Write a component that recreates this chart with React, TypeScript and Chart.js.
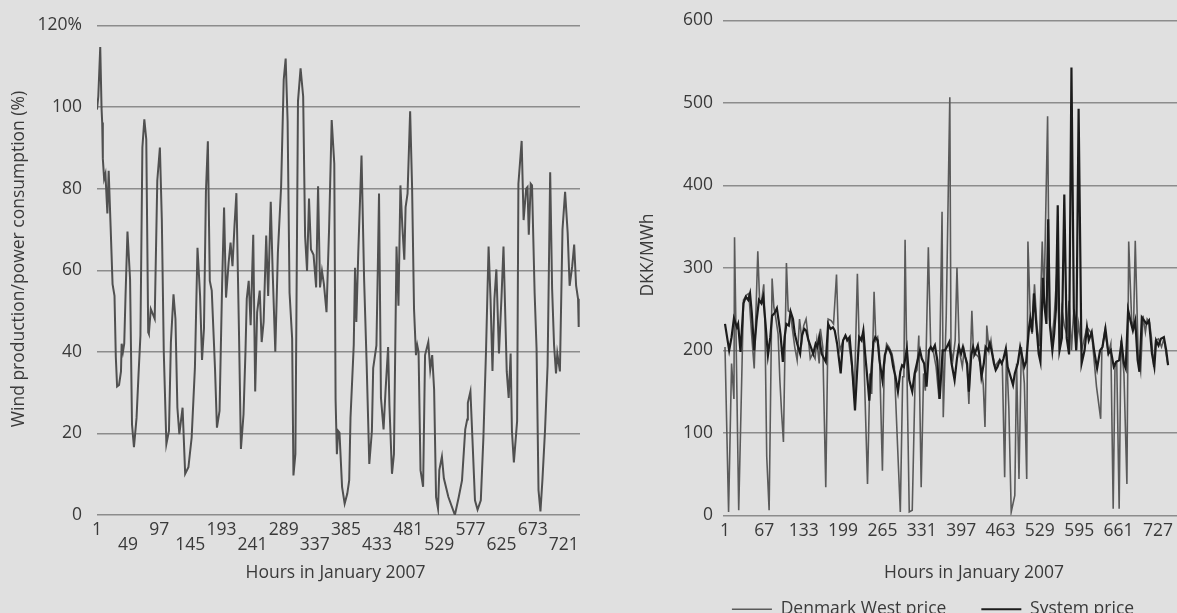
import { useEffect, useRef } from 'react';
import { Chart, registerables } from 'chart.js';
Chart.register(...registerables);

const FONT = '"Open Sans", sans-serif';
const TEXT = '#3a3a3a';
const GRID = '#8c8c8c';

// ---------- left panel: wind production / consumption ----------
const WIND_HOURS = [1,3,6,8,9,10,12,14,17,19,22,25,28,30,32,35,38,39,41,43,45,48,52,55,58,62,65,68,71,74,77,80,81,84,87,90,94,98,101,104,108,112,115,119,122,125,128,133,137,142,147,152,156,160,163,166,169,172,175,178,183,186,190,194,197,200,204,207,210,213,216,220,223,227,230,232,235,238,242,245,248,252,255,258,262,265,269,272,276,280,285,289,292,295,298,302,304,307,311,315,319,322,325,328,331,335,339,342,345,348,351,355,359,363,367,369,371,373,375,379,383,387,390,392,397,399,401,404,409,413,417,421,425,427,432,434,436,439,443,446,450,452,456,459,463,466,469,472,475,477,480,484,487,490,493,495,497,500,504,507,512,515,518,521,524,527,529,533,536,543,553,559,564,569,572,573,577,580,584,588,593,597,601,605,608,611,614,617,621,625,628,633,636,639,641,644,649,651,656,659,663,665,667,670,672,676,679,682,685,688,692,696,700,703,706,709,711,715,719,723,727,730,734,737,740,743,744];
const WIND_SHARE = [99.4,102.6,114.7,99.8,96.2,87.3,82.4,83.6,73.9,84.4,70.7,56.6,53.7,38.8,31.5,31.9,35.2,42,40,42,53.7,69.5,57.8,22.2,16.6,23.8,34.3,44,90.1,97,92.1,44.8,44.4,50.5,49.3,48.1,82,90.1,72.3,40,17.4,20.6,42.4,54.1,48.1,26.3,19.8,26.3,10.1,11.7,19,36,65.5,53.7,38,45.7,79.2,91.6,57.4,55,36,21.4,25.5,56.6,75.4,53.3,61.8,66.8,61,70.7,78.9,44.8,16.2,24.7,40,53,57.4,46.5,68.7,30.3,49.7,55,42.4,47.3,68.5,53.7,76.8,59.4,40,64.3,80.6,106.7,111.9,96.6,54.5,43.2,9.7,14.9,101.4,109.5,102.6,68.3,59.8,77.6,65.1,63.8,55.8,80.6,55.8,59.8,56.6,49.7,70.3,96.8,86.1,28.3,14.9,20.6,20.2,6.9,2.8,5.2,8.5,23.8,41.6,60.6,47.3,64.3,88.1,57.8,36.6,12.5,20.6,36,41.6,59.4,78.8,28.7,21,30.3,41.2,27.1,10.1,14.9,65.8,51.3,80.8,70.7,62.6,75.5,78.8,99,80.4,50.5,39.2,41.6,40,11,6.9,39.2,42.4,35.6,39.2,30.7,4.4,1.6,11,14.3,9,4.4,0,4.4,8.5,21,23.4,27.5,30.3,19,3.6,1.3,3.6,19,40,65.8,53,35.3,53,60.2,39.6,53.7,65.8,35.2,28.7,39.6,20.6,12.9,23,81.2,91.7,72.3,80,80.4,68.7,81.2,80.8,54.5,40.8,6.1,0.9,8.5,20.6,36.6,84,55.4,41.6,34.7,39.6,35.2,70,79.2,69.1,56.2,61,66.3,56.2,53,46.1];
const WIND_TICKS = [1,49,97,145,193,241,289,337,385,433,481,529,577,625,673,721];
const WIND_Y_TICKS = [0,20,40,60,80,100,120];

// ---------- right panel: prices ----------
const DKW_HOURS = [1,7,12,16,17,24,29,32,37,41,46,50,56,59,62,66,68,71,75,80,83,86,90,93,96,99,104,107,111,114,118,122,126,130,133,137,141,144,148,152,155,159,161,165,170,174,179,183,188,191,194,199,203,208,213,218,223,226,229,233,236,240,244,247,251,254,257,260,265,268,272,276,281,285,290,295,299,301,303,306,310,315,320,323,326,330,334,337,342,346,350,355,360,365,367,372,378,380,383,387,390,394,399,402,407,410,415,418,421,426,430,434,437,440,444,447,450,454,457,461,466,470,473,477,481,487,490,494,498,503,507,509,513,516,520,524,528,533,536,542,545,549,553,558,562,566,570,574,578,582,586,590,594,599,608,616,624,631,633,638,644,648,652,655,658,662,665,670,675,678,683,686,689,694,698,702,706,709,713,716,720,723,728,733,737,742,744];
const DKW_PRICE = [204,4,184,141,337,6,164,261,267,269,216,178,320,261,257,280,232,71,6,287,252,240,220,164,123,89,306,248,246,226,204,188,238,212,230,238,212,190,196,190,212,184,226,204,34,238,236,232,292,220,200,212,218,212,186,147,293,212,216,220,139,38,172,147,271,212,216,196,54,180,208,204,196,180,91,4,168,168,334,180,4,6,172,176,218,34,172,151,325,204,200,180,141,368,119,242,507,200,188,212,300,200,180,200,180,135,248,192,196,192,180,160,107,230,200,212,194,180,184,188,185,46,200,130,4,24,184,44,204,160,44,332,240,220,280,230,205,332,260,484,240,210,240,300,200,250,230,220,260,200,250,200,232,200,228,220,156,117,200,224,196,208,8,180,184,8,212,172,38,332,236,224,333,192,174,242,222,238,234,216,180,212,214,204,214,190,182];
const SYS_HOURS = [1,8,12,16,21,23,27,32,36,40,43,46,50,54,58,62,65,69,73,77,80,84,88,91,94,98,101,104,108,111,115,118,122,127,130,134,137,141,145,149,153,156,159,163,167,170,174,178,182,185,189,195,199,203,206,210,214,219,223,226,230,233,236,240,243,247,250,253,257,260,265,269,273,277,280,283,287,291,295,298,301,306,310,315,319,324,328,331,335,339,343,346,349,353,357,361,366,370,373,377,381,386,390,393,397,400,404,407,410,414,417,420,425,428,431,435,438,442,445,448,452,455,458,462,465,468,472,475,480,484,487,492,496,500,503,506,511,513,516,519,523,527,530,534,537,540,543,546,550,553,556,559,562,566,570,574,578,582,586,590,594,599,604,608,611,616,620,625,630,634,639,644,648,653,657,662,666,670,673,677,681,685,689,693,696,700,704,708,712,717,721,724,728,732,737,741,744];
const SYS_PRICE = [232,200,216,239,228,232,198,257,265,261,269,245,200,236,261,257,265,232,194,216,242,245,251,236,220,186,216,232,230,247,238,220,208,196,218,226,224,212,204,196,208,204,216,196,190,186,232,226,228,224,208,172,212,218,212,216,182,127,180,216,212,224,196,164,139,180,210,216,212,188,164,194,204,200,194,180,168,150,174,182,180,202,164,150,172,188,200,190,184,156,200,204,200,206,188,141,200,200,204,210,184,164,190,204,196,204,192,184,150,194,204,196,206,192,168,184,204,200,208,200,184,176,180,188,184,190,202,180,168,158,172,184,204,190,180,186,228,238,222,269,232,196,186,288,252,232,359,230,200,220,250,376,200,215,389,215,195,543,250,200,493,184,200,228,212,222,200,178,200,204,226,196,200,180,186,188,210,184,178,249,236,224,236,188,174,240,236,232,236,196,180,212,206,214,216,200,182];
const PRICE_TICKS = [1,67,133,199,265,331,397,463,529,595,661,727];
const SERIES_NAMES = ['Denmark West price', 'System price'];

const toPoints = (xs: number[], ys: number[]) => xs.map((x, i) => ({ x, y: ys[i] }));

const textPlugin = {
  id: 'freeTexts',
  afterDraw(chart: any, _args: any, opts: any) {
    const ctx = chart.ctx;
    ctx.save();
    ctx.fillStyle = TEXT;
    ctx.font = `17.5px ${FONT}`;
    ctx.textAlign = 'center';
    ctx.textBaseline = 'middle';
    for (const t of opts.items || []) {
      ctx.save();
      ctx.translate(t.x, t.y);
      if (t.rot) ctx.rotate(t.rot);
      ctx.fillText(t.text, 0, 0);
      ctx.restore();
    }
    ctx.restore();
  },
};

// widen the y-scale's label clip box to the canvas edge (labels keep their position)
const yLabelRoom = {
  id: 'yLabelRoom',
  afterLayout(chart: any) {
    if (chart.scales.y) chart.scales.y.left = 0;
  },
};

const tickFont = { family: FONT, size: 17.5, lineHeight: '15px' };

export default function App() {
  const leftRef = useRef<HTMLCanvasElement>(null);
  const rightRef = useRef<HTMLCanvasElement>(null);

  useEffect(() => {
    const left = new Chart(leftRef.current!, {
      type: 'line',
      data: {
        datasets: [{
          label: 'Wind',
          data: toPoints(WIND_HOURS, WIND_SHARE),
          borderColor: '#505050',
          borderWidth: 2,
          pointRadius: 0,
          tension: 0,
          fill: false,
        }],
      },
      options: {
        animation: false,
        responsive: false,
        devicePixelRatio: 1,
        layout: { padding: { top: 20, right: 10, left: 0, bottom: 0 }, autoPadding: false },
        plugins: {
          legend: { display: false },
          tooltip: { enabled: false },
          freeTexts: {
            items: [
              { text: 'Wind production/power consumption (%)', x: 19.5, y: 259, rot: -Math.PI / 2 },
              { text: 'Hours in January 2007', x: 335.5, y: 573 },
            ],
          },
        } as any,
        scales: {
          x: {
            type: 'linear',
            min: 1,
            max: 746,
            grid: { display: false },
            border: { display: false },
            afterFit: (s: any) => { s.height = 98; },
            afterBuildTicks: (s: any) => { s.ticks = WIND_TICKS.map((v) => ({ value: v })); },
            ticks: {
              autoSkip: false, maxRotation: 0, minRotation: 0, padding: 0,
              color: TEXT, font: tickFont,
              callback: (v: any, i: number) => (i % 2 === 0 ? String(v) : ['', String(v)]),
            },
          },
          y: {
            min: 0,
            max: 120,
            afterFit: (s: any) => { s.width = 97; },
            afterBuildTicks: (s: any) => { s.ticks = WIND_Y_TICKS.map((v) => ({ value: v })); },
            grid: { color: GRID, lineWidth: 1.5, drawTicks: false },
            border: { display: false },
            ticks: {
              padding: 15, color: TEXT, font: { family: FONT, size: 17.5 },
              callback: (v: any) => (v === 120 ? '120%' : String(v)),
            },
          },
        },
      },
      plugins: [textPlugin],
    } as any);

    const right = new Chart(rightRef.current!, {
      type: 'line',
      data: {
        datasets: [
          {
            label: SERIES_NAMES[0],
            data: toPoints(DKW_HOURS, DKW_PRICE),
            borderColor: '#5a5a5a',
            backgroundColor: '#5a5a5a',
            borderWidth: 1.6,
            pointRadius: 0,
            tension: 0,
            order: 1,
          },
          {
            label: SERIES_NAMES[1],
            data: toPoints(SYS_HOURS, SYS_PRICE),
            borderColor: '#1c1c1c',
            backgroundColor: '#1c1c1c',
            borderWidth: 2.2,
            pointRadius: 0,
            tension: 0,
            order: 0,
          },
        ],
      },
      options: {
        animation: false,
        responsive: false,
        devicePixelRatio: 1,
        layout: { padding: { top: 20, right: 0, left: 99, bottom: 0 }, autoPadding: false },
        plugins: {
          tooltip: { enabled: false },
          legend: {
            position: 'bottom',
            labels: {
              usePointStyle: true,
              pointStyle: 'line',
              pointStyleWidth: 40,
              padding: 35,
              color: TEXT,
              font: { family: FONT, size: 17.5 },
              sort: (a: any, b: any) => a.datasetIndex - b.datasetIndex,
            },
          },
          freeTexts: {
            items: [
              { text: 'DKK/MWh', x: 58, y: 255, rot: -Math.PI / 2 },
              { text: 'Hours in January 2007', x: 384, y: 573 },
            ],
          },
        } as any,
        scales: {
          x: {
            type: 'linear',
            min: -2.35,
            max: 759,
            grid: { display: false },
            border: { display: false },
            afterFit: (s: any) => { s.height = 50.25; },
            afterBuildTicks: (s: any) => { s.ticks = PRICE_TICKS.map((v) => ({ value: v })); },
            ticks: {
              autoSkip: false, maxRotation: 0, minRotation: 0, padding: 0,
              color: TEXT, font: tickFont,
              callback: (v: any) => String(v),
            },
          },
          y: {
            min: 0,
            max: 600,
            afterFit: (s: any) => { s.width = 34; },
            ticks: { stepSize: 100, padding: 10, color: TEXT, font: { family: FONT, size: 17.5 } },
            grid: { color: GRID, lineWidth: 1.5, drawTicks: false },
            border: { display: false },
          },
        },
      },
      plugins: [textPlugin, yLabelRoom],
    } as any);

    return () => { left.destroy(); right.destroy(); };
  }, []);

  return (
    <div style={{ position: 'fixed', left: 0, top: 0, width: 1177, height: 613, overflow: 'hidden', background: '#e0e0e0' }}>
      <canvas ref={leftRef} width={590} height={613} style={{ position: 'absolute', left: 0, top: 0 }} />
      <canvas ref={rightRef} width={587} height={628} style={{ position: 'absolute', left: 590, top: 0 }} />
    </div>
  );
}
